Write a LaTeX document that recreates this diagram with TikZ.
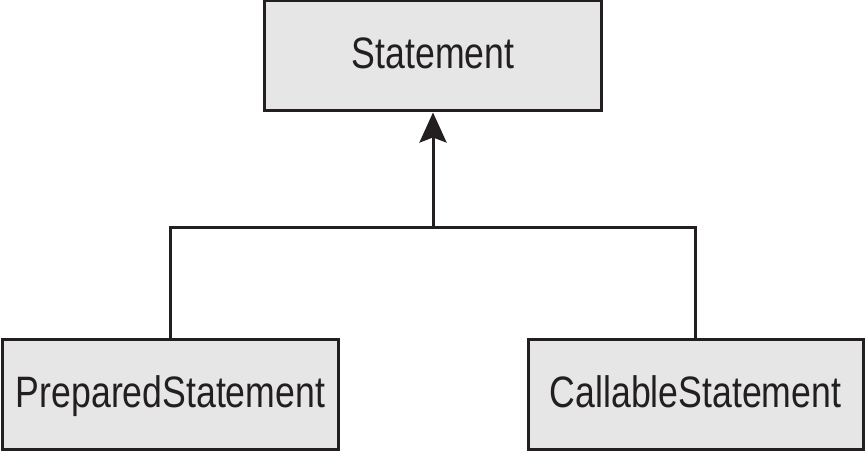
\documentclass[tikz,border=0pt]{standalone}
\usepackage{fontspec}
\setmainfont{Liberation Sans}[FakeStretch=0.81]
\usetikzlibrary{arrows.meta}
\definecolor{boxfill}{HTML}{E6E6E6}
\definecolor{ink}{HTML}{231F20}
\begin{document}
\begin{tikzpicture}[x=1pt,y=1pt,
  classbox/.style={draw=ink, fill=boxfill, line width=3pt, inner sep=0pt,
    text=ink, font=\fontsize{44}{48}\selectfont, text height=32pt, text depth=7pt},
  link/.style={draw=ink, line width=3pt}]
\useasboundingbox (0,0) rectangle (866,453);
\node[classbox, minimum width=337pt, minimum height=110pt] (stmt) at (433,397) {Statement};
\node[classbox, minimum width=336pt, minimum height=110pt] (prep) at (170.5,58.5) {PreparedStatement};
\node[classbox, minimum width=335pt, minimum height=110pt] (call) at (695.5,58.5) {CallableStatement};
\coordinate (j) at (433,226);
\draw[link] (prep.north) |- (j) -| (call.north);
\draw[link, -{Stealth[length=30pt,width=27pt,inset=5pt]}] (j) -- (stmt.south);
\end{tikzpicture}
\end{document}
